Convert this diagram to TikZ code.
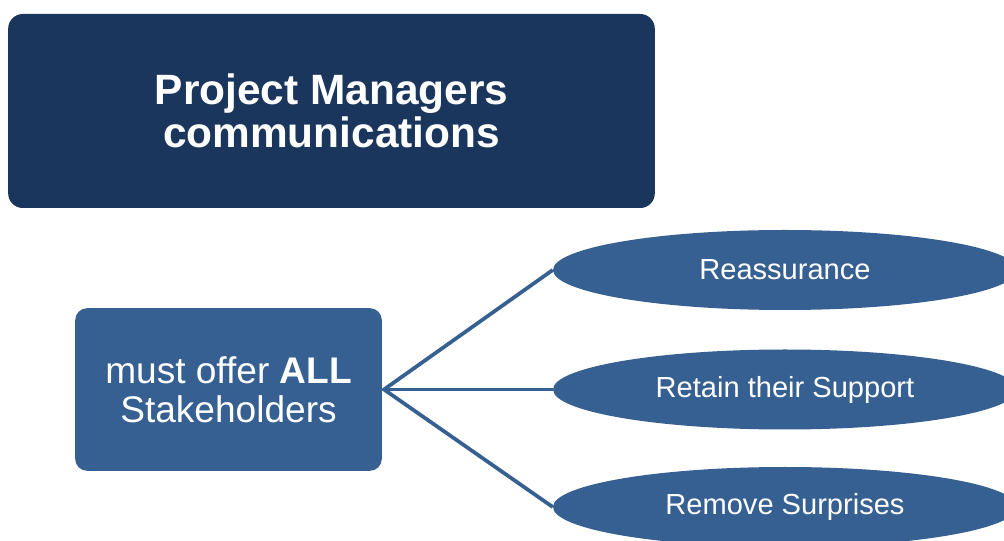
\documentclass[tikz,border=0pt]{standalone}
\usepackage{fontspec}
\setmainfont{Liberation Sans}
\usetikzlibrary{shapes.geometric}

\definecolor{navy}{RGB}{27,54,93}
\definecolor{midblue}{RGB}{54,96,146}

\begin{document}
\begin{tikzpicture}[x=0.75pt,y=-0.75pt,
    titlebox/.style={fill=navy, rounded corners=11pt, text=white, align=center,
        minimum width=485pt, minimum height=145.5pt, font=\fontsize{31.8}{32.5}\selectfont\bfseries},
    offerbox/.style={fill=midblue, rounded corners=9pt, text=white, align=center,
        minimum width=230pt, minimum height=122pt, font=\fontsize{27.8}{29}\selectfont},
    goal/.style={ellipse, fill=midblue, text=white, inner sep=0pt,
        minimum width=348pt, minimum height=60pt, font=\fontsize{21.8}{24}\selectfont},
    link/.style={midblue, line width=2.8pt}]
        \useasboundingbox (0,0) rectangle (1004,541);
        \clip (0,0) rectangle (1004,541);
        \node[titlebox] (title) at (331.5,111) {Project Managers\\communications};
        \node[offerbox] (offer) at (228.5,389.5) {must offer \textbf{ALL}\\Stakeholders};
        \node[goal] (reassure) at (785,270) {Reassurance};
        \node[goal] (retain) at (785,389.5) {Retain their Support};
        \node[goal] (surprise) at (785,507) {Remove Surprises};
        \coordinate (hub) at (384,389.5);
        \draw[link] (reassure.west) -- (hub) -- (surprise.west);
        \draw[link] (hub) -- (retain.west);
    \end{tikzpicture}
\end{document}
